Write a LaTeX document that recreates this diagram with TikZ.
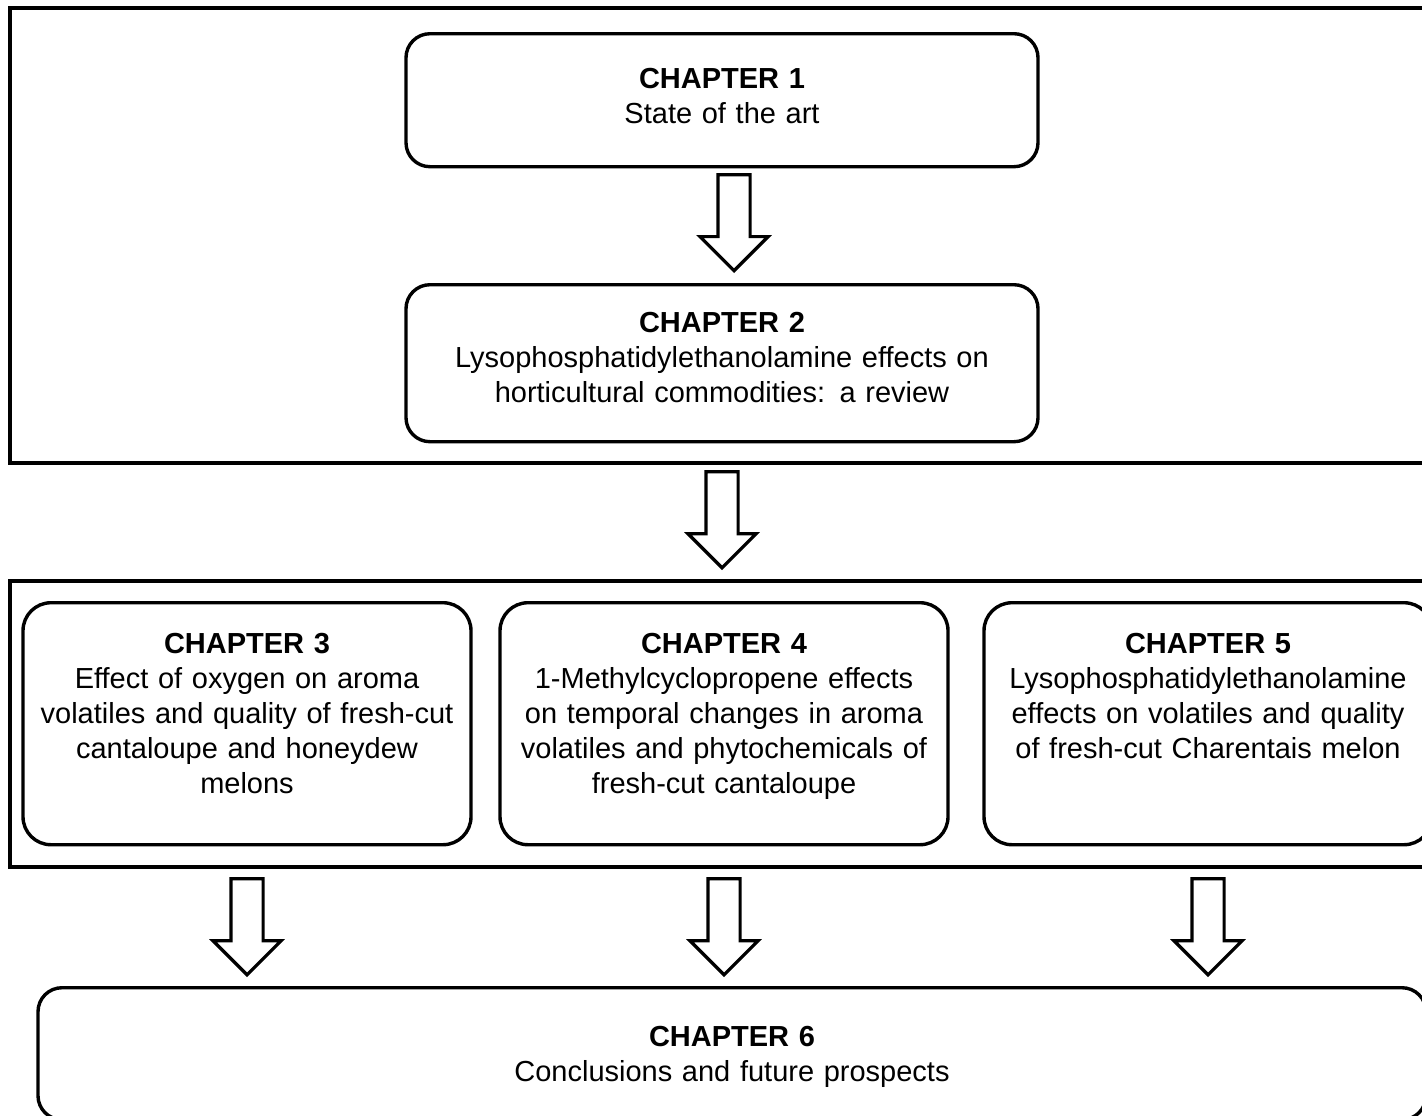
\documentclass[tikz,border=0pt]{standalone}
\usepackage{fontspec}
\setmainfont{Liberation Sans}
\usetikzlibrary{shapes.arrows,calc}

\begin{document}
\begin{tikzpicture}[x=0.5pt,y=-0.5pt,font=\fontsize{14.5}{17.5}\selectfont,
  part/.style={draw,line width=2pt,inner sep=0pt,minimum width=720pt},
  chapter/.style={draw,line width=1.7pt,rounded corners=12pt,anchor=north,align=center,inner xsep=5pt,inner ysep=0pt},
  downarrow/.style={draw,line width=1.6pt,single arrow,single arrow tip angle=90,single arrow head extend=9pt,minimum height=48pt,minimum width=32.5pt,inner xsep=0pt,inner ysep=7.25pt,rotate=-90,anchor=tip}]
  \useasboundingbox (0,0) rectangle (1422,1115);
  \clip (0,0) rectangle (1422,1115);

  % the two parts
  \node[part,minimum height=227.5pt] (part1) at (730,235.5) {};
  \node[part,minimum height=143pt] (part2) at (730,724) {};

  % chapters
  \node[chapter,text width=306pt,text height=27.3pt,text depth=39.2pt] (ch1) at (722,32) {\textbf{CHAPTER 1}\\State of the art};
  \node[chapter,text width=306pt,text height=24pt,text depth=54.5pt] (ch2) at (722,283) {\textbf{CHAPTER 2}\\Lysophosphatidylethanolamine effects on\\horticultural commodities: a review};
  \node[chapter,rounded corners=14pt,text width=214pt,text height=25.5pt,text depth=95.5pt] (ch3) at (247,601) {\textbf{CHAPTER 3}\\Effect of oxygen on aroma\\volatiles and quality of fresh-cut\\cantaloupe and honeydew\\melons};
  \node[chapter,rounded corners=14pt,text width=214pt,text height=25.5pt,text depth=95.5pt] (ch4) at (724,601) {\textbf{CHAPTER 4}\\1-Methylcyclopropene effects\\on temporal changes in aroma\\volatiles and phytochemicals of\\fresh-cut cantaloupe};
  \node[chapter,rounded corners=14pt,text width=214pt,text height=25.5pt,text depth=95.5pt] (ch5) at (1208,601) {\textbf{CHAPTER 5}\\Lysophosphatidylethanolamine\\effects on volatiles and quality\\of fresh-cut Charentais melon};
  \node[chapter,text width=684pt,text height=29.5pt,text depth=36.5pt] (ch6) at (732,986) {\textbf{CHAPTER 6}\\Conclusions and future prospects};

  % arrows
  \node[downarrow] (a1) at ([xshift=6pt,yshift=5pt]ch2.north) {};
  \coordinate (g2) at (ch2.south |- part2.north);
  \node[downarrow] (a2) at ([yshift=4.5pt]g2) {};
  \foreach \c in {3,4,5} {
    \coordinate (g\c) at (ch\c.south |- ch6.north);
    \node[downarrow] (a\c) at ([yshift=4.5pt]g\c) {};
  }
\end{tikzpicture}
\end{document}
